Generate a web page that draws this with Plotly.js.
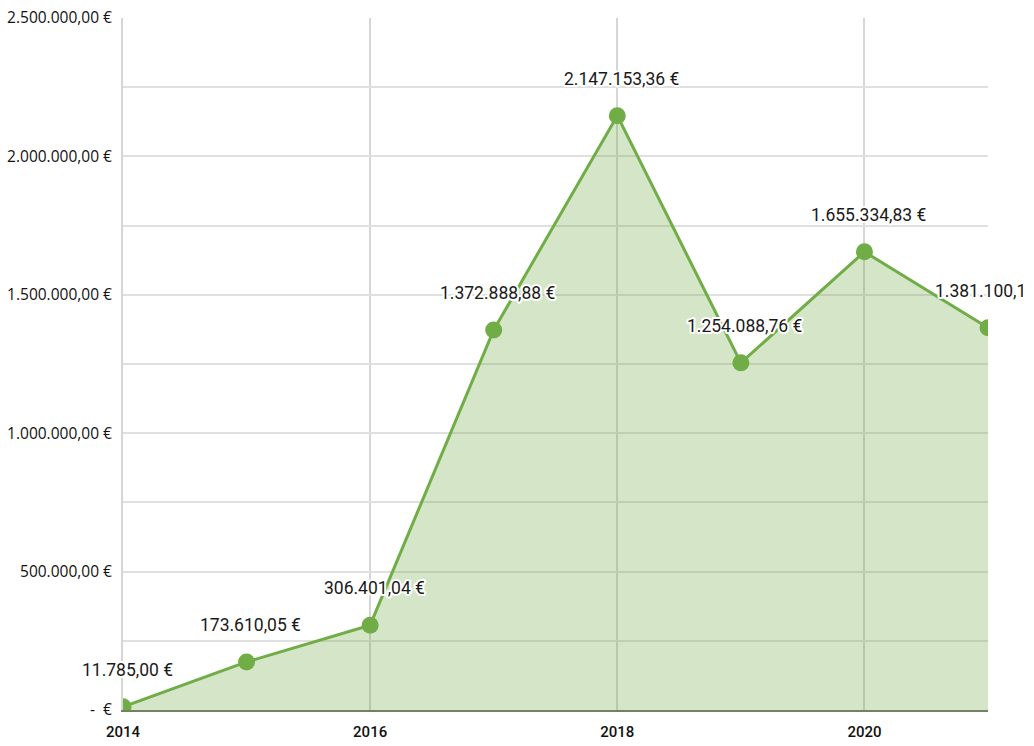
<!DOCTYPE html>
<html>
<head>
<meta charset="utf-8">
<script src="https://cdn.plot.ly/plotly-3.0.1.min.js"></script>
<style>
  body { margin: 0; background: #fff; }
  #chart { width: 1023px; height: 746px; }
  .annotation-text { paint-order: stroke; stroke: #fff; stroke-width: 4px; stroke-linejoin: round; }
</style>
</head>
<body>
<div id="chart"></div>
<script>
var years = [2014, 2015, 2016, 2017, 2018, 2019, 2020, 2021];
var amounts = [11785.00, 173610.05, 306401.04, 1372888.88, 2147153.36, 1254088.76, 1655334.83, 1381100.10];

// gridlines every 250k, labels only every 500k
var yTickVals = [0, 250000, 500000, 750000, 1000000, 1250000, 1500000, 1750000, 2000000, 2250000, 2500000];
var yTickText = ['-  €', '', '500.000,00 €', '', '1.000.000,00 €', '', '1.500.000,00 €', '', '2.000.000,00 €', '', '2.500.000,00 €'];
var xTickVals = [2014, 2016, 2018, 2020];

function euro(v) {
  return v.toLocaleString('de-DE', {minimumFractionDigits: 2, maximumFractionDigits: 2}) + ' €';
}

var area = {
  x: years,
  y: amounts,
  type: 'scatter',
  mode: 'lines+markers',
  fill: 'tozeroy',
  fillcolor: 'rgba(112,173,71,0.3)',
  line: { color: '#70ad47', width: 3 },
  marker: { color: '#70ad47', size: 17 },
  cliponaxis: true,
  hoverinfo: 'x+y'
};

// value labels above each point, white halo via css
var labels = years.map(function(yr, i) {
  return {
    x: yr,
    y: amounts[i],
    text: euro(amounts[i]),
    showarrow: false,
    xshift: 4,
    yshift: 37,
    font: { family: 'Roboto, sans-serif', size: 17.5, color: '#1a1a1a' }
  };
});

var layout = {
  width: 1023,
  height: 746,
  margin: { l: 123, r: 35, t: 18, b: 36 },
  paper_bgcolor: '#fff',
  plot_bgcolor: '#fff',
  showlegend: false,
  xaxis: {
    range: [2014, 2021],
    tickvals: xTickVals,
    ticktext: xTickVals.map(String),
    showgrid: true,
    gridcolor: '#d6d6d6',
    gridwidth: 2,
    zeroline: false,
    showline: true,
    linecolor: '#6f8262',
    linewidth: 2,
    ticks: '',
    ticklabelstandoff: 7,
    tickfont: { family: 'Roboto, sans-serif', size: 15, color: '#111', weight: 500 }
  },
  yaxis: {
    range: [0, 2500000],
    tickvals: yTickVals,
    ticktext: yTickText,
    showgrid: true,
    gridcolor: '#e0e0e0',
    gridwidth: 2,
    zeroline: false,
    showline: true,
    linecolor: '#d6d6d6',
    linewidth: 2,
    ticks: '',
    ticklabelstandoff: 6,
    tickfont: { family: 'Open Sans, sans-serif', size: 15.5, color: '#111' }
  },
  annotations: labels
};

Plotly.newPlot('chart', [area], layout, { displayModeBar: false, staticPlot: true });
</script>
</body>
</html>
